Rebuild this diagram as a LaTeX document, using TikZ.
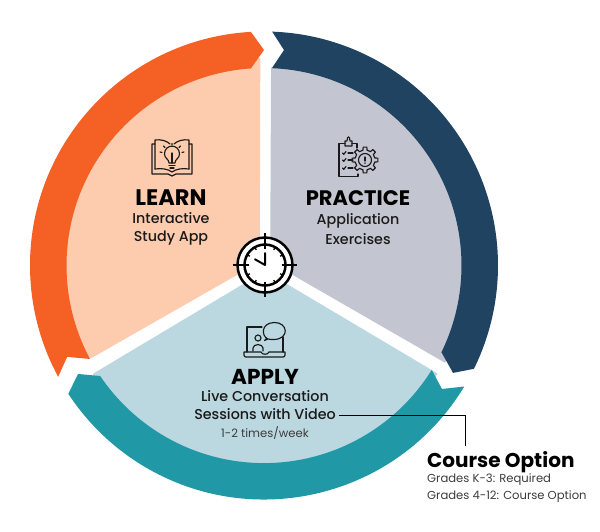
\documentclass[tikz,border=0pt]{standalone}
\usepackage{fontspec}
\setmainfont{Poppins}
\newfontfamily\medf{Poppins Medium}
\definecolor{orangeR}{HTML}{F56025}
\definecolor{orangeL}{HTML}{FDCBAE}
\definecolor{navyR}{HTML}{1F4361}
\definecolor{greyL}{HTML}{C3C6D0}
\definecolor{tealR}{HTML}{2098A6}
\definecolor{tealL}{HTML}{BBD7DF}
\definecolor{ink}{HTML}{1A1A1A}
\tikzset{
 title/.style={font=\bfseries\fontsize{21}{23}\selectfont,text=black,inner sep=0pt,anchor=base},
 sub/.style={font=\medf\fontsize{14.3}{16}\selectfont,text=ink,inner sep=0pt,anchor=base},
 small/.style={font=\fontsize{11.6}{13}\selectfont,text=ink!85,inner sep=0pt,anchor=base},
 ico/.style={draw=ink,line width=1.15pt,line join=round,line cap=round},
}
\begin{document}
\begin{tikzpicture}[x=1pt,y=1pt]
\useasboundingbox (0,-531) rectangle (600,0);
\begin{scope}[shift={(265,-265)}]
 \fill[orangeL] (150:6) -- (91.3:207) arc[start angle=91.3,end angle=205,radius=207] -- (208.2:197) -- cycle;
 \fill[greyL] (30:6) -- (88.25:197.5) -- (80:205) arc[start angle=80,end angle=-28.5,radius=205] -- cycle;
 \fill[tealL] (270:6) -- (212.3:204) arc[start angle=212.3,end angle=327.8,radius=204] -- (327.8:197) -- cycle;
\end{scope}
\begin{scope}[shift={(264,-265.5)}]
 \fill[orangeR] (93.2:234) arc[start angle=93.2,end angle=208.4,radius=234] -- (204.9:217) -- (208.25:197.5) arc[start angle=208.25,end angle=93.8,radius=197.5] -- (90:215.5) -- cycle;
 \fill[navyR] (88:234) arc[start angle=88,end angle=-26.2,radius=234] -- (-29.6:217.4) -- (-26.05:197.5) arc[start angle=-26.05,end angle=87.7,radius=197.5] -- (84.7:216.4) -- cycle;
 \fill[tealR] (-31.15:234) arc[start angle=-31.15,end angle=-146.75,radius=234] -- (210.25:215.3) -- (214:197.6) arc[start angle=-146,end angle=-31.9,radius=197.6] -- (-34.75:216.6) -- cycle;
\end{scope}
% clock
\begin{scope}[shift={(265,-265)}]
 \fill[white] (0,0) circle (28.5);
 \draw[black,line width=2.5pt] (0,0) circle (27.5) (0,0) circle (20.5);
 \foreach \a in {0,90,180,270}{\draw[black,line width=1.4pt] (\a:16.5) -- (\a:32);}
 \foreach \a in {30,60,120,150,210,240,300,330}{\draw[black,line width=1.3pt] (\a:17.5) -- (\a:21);}
 \draw[black,line width=2pt,line cap=round,line join=round] (0,12) -- (0,0) -- (-10,5.7);
\end{scope}
% gear
\begin{scope}[shift={(365,-160)}]
 \foreach \a in {0,45,...,315}{
  \draw[ico] (\a-12:10) -- (\a-8:13) -- (\a+8:13) -- (\a+12:10) arc[start angle=\a+12,end angle=\a+33,radius=10];
 }
 \draw[ico] (0,0) circle (6.5);
 \draw[ico] (0,3) -- (0,-1) (0,-3) -- (0,-3.2);
\end{scope}
\begin{scope}[y=-1pt]
% book icon
 \draw[ico] (155,169) -- (155,140) .. controls (161,139) and (167,141) .. (170,144);
 \draw[ico] (174,144) .. controls (177,141) and (183,139) .. (189,140) -- (189,169);
 \draw[ico] (155,144) -- (152,144) -- (152,174) -- (168,174) -- (172,176) -- (176,174) -- (192,174) -- (192,144) -- (189,144);
 \draw[ico] (155,169) .. controls (162,168) and (168,169) .. (172,172) .. controls (176,169) and (182,168) .. (189,169);
 \draw[ico] (169,163) .. controls (169,159) and (164.5,158.5) .. (164.5,154) .. controls (164.5,143.5) and (179.5,143.5) .. (179.5,154) .. controls (179.5,158.5) and (175,159) .. (175,163) -- cycle;
 \draw[ico] (169,165.5) -- (175,165.5) (170,168) -- (174,168) (172,163) -- (172,153);
 \draw[ico] (172,143.5) -- (172,145) (163.5,146) -- (165,147.5) (180.5,146) -- (179,147.5) (160,152) -- (162,152.5) (184,152) -- (182,152.5);
% clipboard icon
 \draw[ico] (357,148) -- (357,143.5) -- (352,143.5) (345,143.5) -- (339,143.5) -- (339,176.5) -- (358,176.5) -- (358,174);
 \draw[ico] (345,146) -- (345,141) -- (347,141) .. controls (347,135.5) and (350,135.5) .. (350,141) -- (352,141) -- (352,146) -- cycle;
 \foreach \yy in {153,160,168}{
  \draw[ico] (342.5,\yy) -- (343.8,\yy+1.3) -- (346,\yy-1.5);
  \draw[ico] (348,\yy) -- (353,\yy);
 }
% laptop icon
 \draw[ico] (262,327) -- (247,327) -- (247,352) (283,337) -- (283,352);
 \draw[ico] (244,352) -- (261,352) .. controls (262,355) and (268,355) .. (269,352) -- (285,352) -- (285,355) .. controls (285,356.5) and (284,357) .. (283,357) -- (246,357) .. controls (245,357) and (244,356.5) .. (244,355) -- cycle;
 \draw[ico] (258,338) circle (3);
 \draw[ico] (253,351) -- (253,348) .. controls (253,343.5) and (263,343.5) .. (263,348) -- (263,351);
 \draw[ico] (268,339) .. controls (261,336) and (261,323) .. (274,322.5) .. controls (288,322) and (290,339) .. (274,339.5) .. controls (272,339.5) and (270,339.5) .. (268,339) -- (264.5,340.5) .. controls (266,339.5) and (266.5,339) .. (266.5,338);
\end{scope}
\node[title,font=\bfseries\fontsize{22.5}{24}\selectfont] (learn) at (171,-205.3) {LEARN};
\node[sub] (la) at (171,-223) {Interactive};
\node[sub] (lb) at (171,-241.5) {Study App};
\node[title] (prac) at (358,-205) {PRACTICE};
\node[sub] (pa) at (358,-224) {Application};
\node[sub] (pb) at (358,-244) {Exercises};
\node[title,font=\bfseries\fontsize{21.6}{24}\selectfont] (apply) at (265,-384) {APPLY};
\node[sub] (aa) at (265,-401.7) {Live Conversation};
\node[sub] (ab) at (265,-419.3) {Sessions with Video};
\node[small] (ac) at (265,-437) {1-2 times/week};
\node[title,anchor=base west,font=\bfseries\fontsize{20}{22}\selectfont] (co) at (427,-467) {Course Option};
\node[small,anchor=base west] (g1) at (427,-482.7) {Grades K-3: Required};
\node[small,anchor=base west] (g2) at (427,-499) {Grades 4-12: Course Option};
\coordinate (cc) at (465.5,-446);
\draw[black,line width=1pt] ([xshift=3pt,yshift=3.6pt]ab.base east) -| (cc);
\end{tikzpicture}
\end{document}
